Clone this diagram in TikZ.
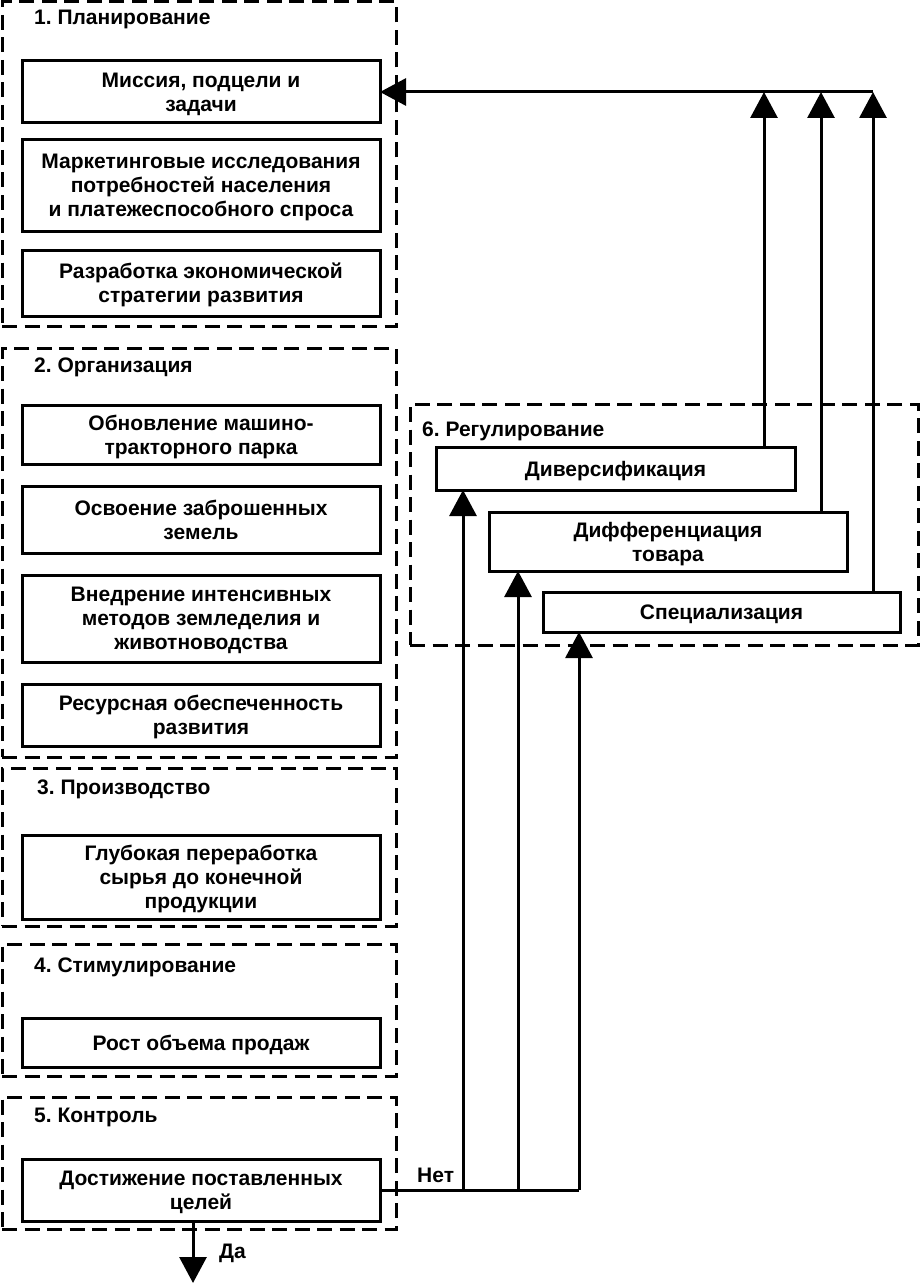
\documentclass[tikz,border=0pt]{standalone}
\usepackage{fontspec}
\setmainfont{Liberation Sans}
\usetikzlibrary{arrows.meta}
\frenchspacing
\tikzset{
  x=1pt, y=-1pt,
  lw/.style={line width=3pt},
  grp/.style={draw, lw, dash pattern=on 15pt off 7.5pt, inner sep=0pt, outer sep=0pt, anchor=north west},
  box/.style={draw, lw, inner sep=0pt, outer sep=0pt, align=center, text depth=0pt, font=\fontsize{21pt}{24pt}\selectfont\bfseries},
  ttl/.style={anchor=west, inner sep=0pt, font=\fontsize{21pt}{24pt}\selectfont\bfseries},
  tri/.style={lw, -{Triangle[length=26pt, width=27pt]}},
}
\newcommand{\bx}[6]{% name, x1, y1, x2, y2, text
  \node[box, minimum width={(#4-#2)*1pt}, minimum height={(#5-#3)*1pt}] (#1) at ({(#2+#4)/2}, {(#3+#5)/2}) {#6};}
\newcommand{\gp}[5]{% name, x1, y1, x2, y2
  \node[grp, minimum width={(#4-#2)*1pt}, minimum height={(#5-#3)*1pt}] (#1) at (#2,#3) {};}
\begin{document}
\begin{tikzpicture}
\useasboundingbox (0,0) rectangle (920,1284);
% groups
\gp{g1}{2}{2}{396}{326}
\gp{g2}{2}{348}{396}{757}
\gp{g3}{2}{768}{396}{926}
\gp{g4}{2}{944}{396}{1076}
\gp{g5}{2}{1097}{396}{1229}
\gp{g6}{410}{404}{918}{645}
% titles
\node[ttl] (t1) at (34,19) {1. Планирование};
\node[ttl] (t2) at (34,367) {2. Организация};
\node[ttl] (t3) at (37,789) {3. Производство};
\node[ttl] (t4) at (34,967) {4. Стимулирование};
\node[ttl] (t5) at (34,1117) {5. Контроль};
\node[ttl] (t6) at (422,431) {6. Регулирование};
% boxes
\bx{b1}{22}{61}{380}{123}{Миссия, подцели и\\задачи}
\bx{b2}{22}{140}{380}{231}{Маркетинговые исследования\\потребностей населения\\и платежеспособного спроса}
\bx{b3}{22}{250}{380}{316}{Разработка экономической\\стратегии развития}
\bx{b4}{22}{405}{380}{464}{Обновление машино-\\тракторного парка}
\bx{b5}{22}{486}{380}{553}{Освоение заброшенных\\земель}
\bx{b6}{22}{575}{380}{662}{Внедрение интенсивных\\методов земледелия и\\животноводства}
\bx{b7}{22}{684}{380}{746}{Ресурсная обеспеченность\\развития}
\bx{b8}{22}{835}{380}{919}{Глубокая переработка\\сырья до конечной\\продукции}
\bx{b9}{22}{1018}{380}{1067}{Рост объема продаж}
\bx{goal}{22}{1159}{380}{1221}{Достижение поставленных\\целей}
\bx{div}{436}{447}{795}{490}{Диверсификация}
\bx{dif}{489}{512}{847}{571}{Дифференциация\\товара}
\bx{spe}{543}{592}{900}{632}{Специализация}
% feedback coordinates
\coordinate (u1) at (764,92);
\coordinate (u2) at (821,92);
\coordinate (u3) at (873,92);
\coordinate (n1) at (463,1190);
\coordinate (n2) at (518,1190);
\coordinate (n3) at (579,1190);
\coordinate (yes) at (193,1283);
% connectors
\draw[tri] (u3) -- (b1.east);
\draw[tri] (u1 |- div.north) -- (u1);
\draw[tri] (u2 |- dif.north) -- (u2);
\draw[tri] (u3 |- spe.north) -- (u3);
\draw[lw] (goal.east) -- (n3);
\draw[tri] (n1) -- (n1 |- div.south);
\draw[tri] (n2) -- (n2 |- dif.south);
\draw[tri] (n3) -- (n3 |- spe.south);
\draw[tri] (yes |- goal.south) -- (yes);
\node[ttl] (no) at (417,1175) {Нет};
\node[ttl] (da) at (219,1253) {Да};
\end{tikzpicture}
\end{document}
